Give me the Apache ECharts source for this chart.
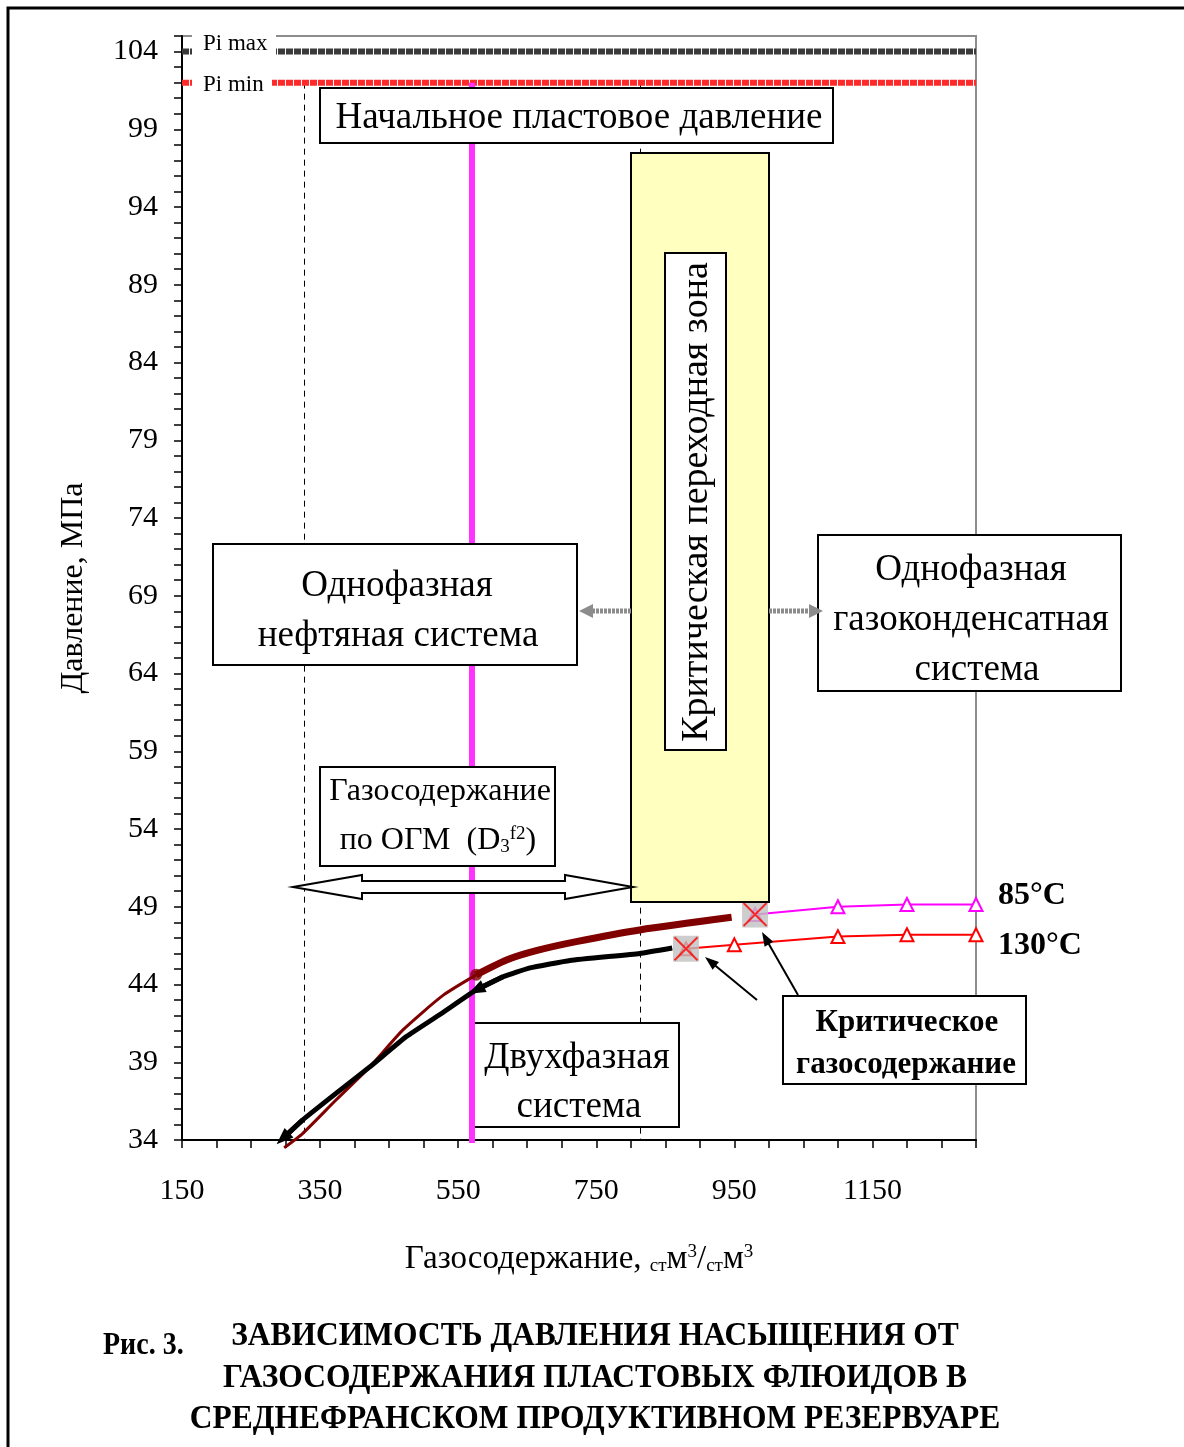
<!DOCTYPE html>
<html>
<head>
<meta charset="utf-8">
<script src="https://cdn.jsdelivr.net/npm/echarts@6/dist/echarts.min.js"></script>
<style>
  html, body { margin: 0; padding: 0; background: #fff; }
  #chart { width: 1184px; height: 1447px; }
</style>
</head>
<body>
<div id="chart"></div>
<script>
// Pressure levels, MPa
const piMax = 104;
const piMin = 102;
// Initial reservoir pressure marker (gas content), m3/m3
const initialGasContent = 570;
// Gas content range estimated by OGM for D3f2
const ogmRange = [326, 813];

// Two-phase curve (black), from the critical point downwards
const blackGas = [860, 813, 712, 654, 615, 576, 528, 475, 422, 373, 325, 296];
const blackPres = [46.35, 46.0, 45.55, 45.07, 44.5, 43.65, 42.2, 40.65, 38.7, 37.0, 35.3, 34.1];

// Two-phase curve (dark red): upper (thick) and lower (thin) parts
const redUpperGas = [946, 813, 721, 663, 620, 576];
const redUpperPres = [48.32, 47.51, 46.76, 46.18, 45.58, 44.62];
const redLowerGas = [576, 528, 470, 422, 373, 325, 298];
const redLowerPres = [44.62, 43.3, 41.08, 38.7, 36.57, 34.43, 33.5];

// Single-phase gas-condensate lines
const gas85 = [980, 1100, 1200, 1300];
const pres85 = [48.5, 49.0, 49.15, 49.15];
const gas130 = [880, 950, 1100, 1200, 1300];
const pres130 = [46.3, 46.55, 47.08, 47.2, 47.2];

// Critical gas content points
const critGas = [880, 980];
const critPres = [46.3, 48.5];

const SERIF = "'Liberation Serif', 'Times New Roman', serif";
const zip = (a, b) => a.map((v, i) => [v, b[i]]);

const chart = echarts.init(document.getElementById('chart'), null, { renderer: 'canvas' });

// ---------- annotation helpers ----------
function box(x, y, w, h, opts) {
  opts = opts || {};
  return {
    type: 'rect', z: opts.z != null ? opts.z : 20,
    shape: { x: x, y: y, width: w, height: h },
    style: { fill: opts.fill || '#fff', stroke: '#000', lineWidth: 2 }
  };
}
function label(text, x, y, size, opts) {
  opts = opts || {};
  return {
    type: 'text', z: opts.z != null ? opts.z : 21,
    x: x, y: y, rotation: opts.rotation || 0,
    scaleX: opts.scaleX || 1, scaleY: opts.scaleY || 1,
    style: {
      text: text, fill: '#000',
      font: (opts.bold ? 'bold ' : '') + size + 'px ' + SERIF,
      align: opts.align || 'center', verticalAlign: 'middle',
      rich: opts.rich
    }
  };
}
function arrowHead(x1, y1, x2, y2, len, half) {
  const a = Math.atan2(y2 - y1, x2 - x1);
  const bx = x2 - len * Math.cos(a), by = y2 - len * Math.sin(a);
  return [[x2, y2], [bx + half * Math.sin(a), by - half * Math.cos(a)], [bx - half * Math.sin(a), by + half * Math.cos(a)]];
}
function arrow(x1, y1, x2, y2, color, width, len, half, dash, z) {
  const a = Math.atan2(y2 - y1, x2 - x1);
  return [
    { type: 'line', z: z, shape: { x1: x1, y1: y1, x2: x2 - (len - 2) * Math.cos(a), y2: y2 - (len - 2) * Math.sin(a) },
      style: { stroke: color, lineWidth: width, lineDash: dash || null } },
    { type: 'polygon', z: z, shape: { points: arrowHead(x1, y1, x2, y2, len, half) },
      style: { fill: color } }
  ];
}

const subSup = {
  sub: { fontSize: 19, fontFamily: SERIF, verticalAlign: 'bottom', lineHeight: 19 },
  sup: { fontSize: 19, fontFamily: SERIF, verticalAlign: 'top', lineHeight: 19 }
};

const graphics = [
  // page frame
  { type: 'rect', z: 30, shape: { x: 8, y: 8, width: 1260, height: 1520 }, style: { fill: null, stroke: '#000', lineWidth: 3 } },

  // Pi max / Pi min labels
  { type: 'rect', z: 20, shape: { x: 192, y: 28, width: 84, height: 32 }, style: { fill: '#fff' } },
  label('Pi max', 203, 44, 23, { align: 'left' }),
  { type: 'rect', z: 20, shape: { x: 192, y: 71, width: 80, height: 24 }, style: { fill: '#fff' } },
  label('Pi min', 203, 85, 23, { align: 'left' }),

  // initial reservoir pressure
  box(320, 88, 513, 55),
  label('Начальное пластовое давление', 579, 118, 37),

  // critical transition zone
  box(631, 153, 138, 749, { fill: '#ffffc0', z: 18 }),
  box(665, 253, 61, 497),
  label('Критическая переходная зона', 697, 502, 38, { rotation: Math.PI / 2 }),

  // single-phase oil system
  box(213, 544, 364, 121),
  label('Однофазная', 397, 586, 37),
  label('нефтяная система', 398, 636, 37),

  // single-phase gas-condensate system
  box(818, 535, 303, 156),
  label('Однофазная', 971, 570, 37),
  label('газоконденсатная', 971, 620, 37),
  label('система', 977, 670, 37),

  // grey pointers from the transition zone
  ...arrow(631, 611, 579, 611, '#8c8c8c', 5, 14, 7, [3, 1], 22),
  ...arrow(769, 611, 823, 611, '#8c8c8c', 5, 14, 7, [3, 1], 22),

  // OGM gas content
  box(320, 767, 235, 99),
  label('Газосодержание', 440, 792, 32),
  label('по ОГМ  (D{sub|3}{sup|f2})', 438, 841, 32, { rich: subSup }),

  // double hollow arrow for the OGM range
  { type: 'polygon', z: 22,
    shape: { points: [[293, 887], [362, 875], [362, 881], [565, 881], [565, 875], [633, 887], [565, 899], [565, 893], [362, 893], [362, 899]] },
    style: { fill: '#fff', stroke: '#000', lineWidth: 2 } },

  // two-phase system: above the dashed boundary, below the magenta line
  box(471, 1023, 208, 104, { z: 8 }),
  label('Двухфазная', 577, 1058, 37, { z: 8 }),
  label('система', 579, 1107, 37, { z: 8 }),

  // critical gas content
  box(783, 996, 243, 88),
  label('Критическое', 907, 1023, 31, { bold: true }),
  label('газосодержание', 906, 1065, 31, { bold: true }),
  ...arrow(757, 1000, 705, 957, '#000', 2, 14, 5, null, 22),
  ...arrow(798, 995, 762, 932, '#000', 2, 14, 5, null, 22),

  // temperature labels
  label('85°C', 998, 896, 32, { bold: true, align: 'left' }),
  label('130°C', 998, 946, 32, { bold: true, align: 'left' }),

  // caption
  label('Рис. 3.', 103, 1346, 28, { bold: true, align: 'left', scaleY: 1.1 }),
  label('ЗАВИСИМОСТЬ ДАВЛЕНИЯ НАСЫЩЕНИЯ ОТ', 595, 1336, 31.5, { bold: true, scaleY: 1.1 }),
  label('ГАЗОСОДЕРЖАНИЯ ПЛАСТОВЫХ ФЛЮИДОВ В', 595, 1378, 31.5, { bold: true, scaleY: 1.1 }),
  label('СРЕДНЕФРАНСКОМ ПРОДУКТИВНОМ РЕЗЕРВУАРЕ', 595, 1419, 31.5, { bold: true, scaleY: 1.1 })
];

const option = {
  backgroundColor: '#fff',
  animation: false,
  grid: { left: 182, right: 208, top: 36, bottom: 307, show: true, borderColor: '#8c8c8c', borderWidth: 2, backgroundColor: 'transparent' },
  xAxis: {
    type: 'value', min: 150, max: 1300, interval: 50,
    name: 'Газосодержание, {sub|ст}м{sup|3}/{sub|ст}м{sup|3}',
    nameLocation: 'middle', nameGap: 103,
    nameTextStyle: { color: '#000', fontSize: 33, fontFamily: SERIF, rich: subSup },
    axisLine: { lineStyle: { color: '#000', width: 2 } },
    axisTick: { length: 8, lineStyle: { color: '#000', width: 1.5 } },
    axisLabel: {
      color: '#000', fontSize: 30, fontFamily: SERIF, margin: 36,
      formatter: v => ((v - 150) % 200 === 0 && v < 1300) ? String(v) : ''
    },
    splitLine: { show: false }
  },
  yAxis: {
    type: 'value', min: 34, max: 105, interval: 1,
    name: 'Давление, МПа', nameLocation: 'middle', nameGap: 92,
    nameTextStyle: { color: '#000', fontSize: 32, fontFamily: SERIF },
    axisLine: { lineStyle: { color: '#000', width: 2 } },
    axisTick: { length: 8, lineStyle: { color: '#000', width: 1.5 } },
    axisLabel: {
      color: '#000', fontSize: 30, fontFamily: SERIF, margin: 24,
      formatter: v => ((v - 34) % 5 === 0 && v <= 104) ? String(v) : ''
    },
    splitLine: { show: false }
  },
  series: [
    { name: 'Pi max', type: 'line', z: 3, symbol: 'none', data: [[150, piMax], [1300, piMax]],
      lineStyle: { color: '#3a3a3a', width: 6, type: [7, 1], cap: 'butt' } },
    { name: 'Pi min', type: 'line', z: 3, symbol: 'none', data: [[150, piMin], [1300, piMin]],
      lineStyle: { color: '#ff2a2a', width: 6, type: [7, 1], cap: 'butt' } },
    { name: 'Начальное пластовое давление', type: 'line', z: 9, symbol: 'none', clip: false,
      data: [[initialGasContent, piMin], [initialGasContent, 33.8]],
      lineStyle: { color: '#ff33ff', width: 6 } },

    // dark red curve
    { name: 'upper red', type: 'line', z: 10, symbol: 'none', clip: false, smooth: 0.25,
      data: zip(redUpperGas, redUpperPres), lineStyle: { color: '#800000', width: 7, join: 'round' } },
    { name: 'lower red', type: 'line', z: 10, symbol: 'none', clip: false, smooth: 0.2,
      data: zip(redLowerGas, redLowerPres), lineStyle: { color: '#800000', width: 3, join: 'round' } },
    { name: 'red dot', type: 'scatter', z: 11, symbol: 'circle', symbolSize: 12,
      data: [[redUpperGas[redUpperGas.length - 1], redUpperPres[redUpperPres.length - 1]]],
      itemStyle: { color: '#800000' } },

    // black curve with arrowheads
    { name: 'black', type: 'line', z: 11, symbol: 'none', clip: false, smooth: 0.12,
      data: zip(blackGas, blackPres), lineStyle: { color: '#000', width: 5, join: 'round' },
      markLine: {
        silent: true, symbol: ['none', 'triangle'], symbolSize: [13, 17], z: 11,
        label: { show: false },
        lineStyle: { color: '#000', width: 5, type: 'solid' },
        data: [
          [{ coord: [blackGas[4], blackPres[4]] }, { coord: [blackGas[5], blackPres[5]] }],
          [{ coord: [blackGas[10], blackPres[10]] }, { coord: [blackGas[11], blackPres[11]] }]
        ]
      } },

    // 130 °C
    { name: '130°C', type: 'line', z: 12, data: zip(gas130, pres130),
      lineStyle: { color: '#ff0000', width: 2 },
      symbol: 'triangle', symbolSize: 13, showAllSymbol: true,
      itemStyle: { color: '#fff', borderColor: '#ff0000', borderWidth: 2 } },
    // 85 °C
    { name: '85°C', type: 'line', z: 12, data: zip(gas85, pres85),
      lineStyle: { color: '#ff00ff', width: 2 },
      symbol: 'triangle', symbolSize: 13, showAllSymbol: true,
      itemStyle: { color: '#fff', borderColor: '#ff00ff', borderWidth: 2 } },

    // critical gas content markers
    { name: 'Критическое газосодержание', type: 'scatter', z: 13, symbol: 'rect', symbolSize: 26,
      data: zip(critGas, critPres), itemStyle: { color: '#c0c0c0' } },
    { name: 'Критическое газосодержание X', type: 'scatter', z: 14,
      symbol: 'path://M0,0L10,10M10,0L0,10', symbolSize: 23,
      data: zip(critGas, critPres),
      itemStyle: { color: 'transparent', borderColor: '#ff0000', borderWidth: 2 } }
  ]
};

chart.setOption(option);

// OGM range boundaries: dashed verticals placed through the axes' own scale,
// kept with the annotations so the boxes can sit on top of them
const ogmLines = ogmRange.map(g => {
  const top = chart.convertToPixel({ xAxisIndex: 0, yAxisIndex: 0 }, [g, piMin]);
  const bottom = chart.convertToPixel({ xAxisIndex: 0, yAxisIndex: 0 }, [g, 34]);
  return { type: 'line', z: 2,
    shape: { x1: Math.round(top[0]) + 0.5, y1: top[1], x2: Math.round(bottom[0]) + 0.5, y2: bottom[1] },
    style: { stroke: '#000', lineWidth: 1, lineDash: [6, 5] } };
});

chart.setOption({ graphic: ogmLines.concat(graphics) });
</script>
</body>
</html>
